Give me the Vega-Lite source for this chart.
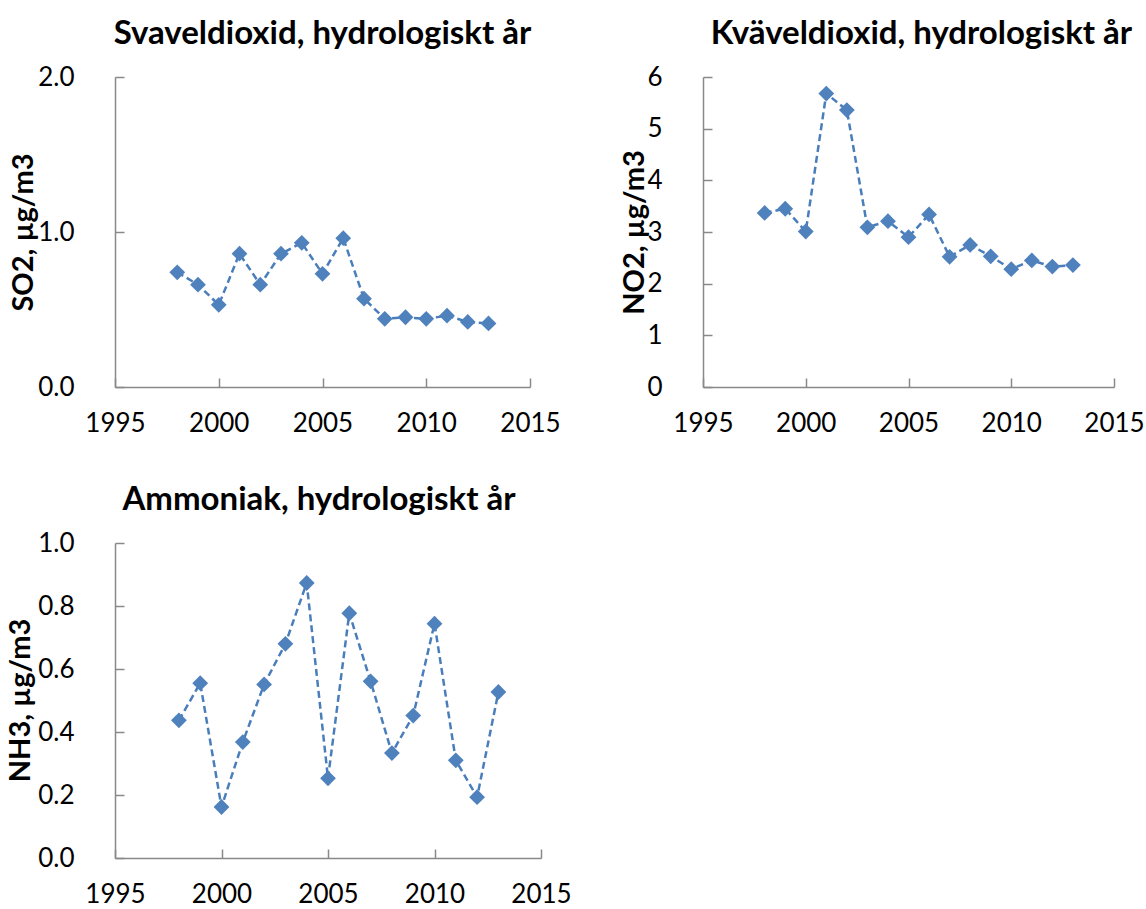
{
  "$schema": "https://vega.github.io/schema/vega-lite/v6.json",
  "background": "white",
  "autosize": {"type": "none"},
  "padding": {"left": 115, "top": 77, "right": 1031, "bottom": 832},
  "datasets": {
    "so2": [
      {"year": 1998, "value": 0.74}, {"year": 1999, "value": 0.66}, {"year": 2000, "value": 0.53},
      {"year": 2001, "value": 0.86}, {"year": 2002, "value": 0.66}, {"year": 2003, "value": 0.86},
      {"year": 2004, "value": 0.93}, {"year": 2005, "value": 0.73}, {"year": 2006, "value": 0.96},
      {"year": 2007, "value": 0.57}, {"year": 2008, "value": 0.44}, {"year": 2009, "value": 0.45},
      {"year": 2010, "value": 0.44}, {"year": 2011, "value": 0.46}, {"year": 2012, "value": 0.42},
      {"year": 2013, "value": 0.41}
    ],
    "no2": [
      {"year": 1998, "value": 3.37}, {"year": 1999, "value": 3.45}, {"year": 2000, "value": 3.01},
      {"year": 2001, "value": 5.68}, {"year": 2002, "value": 5.36}, {"year": 2003, "value": 3.09},
      {"year": 2004, "value": 3.21}, {"year": 2005, "value": 2.90}, {"year": 2006, "value": 3.34},
      {"year": 2007, "value": 2.52}, {"year": 2008, "value": 2.75}, {"year": 2009, "value": 2.53},
      {"year": 2010, "value": 2.28}, {"year": 2011, "value": 2.45}, {"year": 2012, "value": 2.33},
      {"year": 2013, "value": 2.36}
    ],
    "nh3": [
      {"year": 1998, "value": 0.437}, {"year": 1999, "value": 0.555}, {"year": 2000, "value": 0.162},
      {"year": 2001, "value": 0.368}, {"year": 2002, "value": 0.551}, {"year": 2003, "value": 0.680},
      {"year": 2004, "value": 0.873}, {"year": 2005, "value": 0.253}, {"year": 2006, "value": 0.777},
      {"year": 2007, "value": 0.561}, {"year": 2008, "value": 0.333}, {"year": 2009, "value": 0.452},
      {"year": 2010, "value": 0.744}, {"year": 2011, "value": 0.310}, {"year": 2012, "value": 0.193},
      {"year": 2013, "value": 0.527}
    ]
  },
  "config": {
    "font": "Lato",
    "view": {"stroke": null},
    "axis": {
      "grid": false,
      "domainColor": "#898989",
      "domainWidth": 1.5,
      "tickColor": "#898989",
      "tickWidth": 1.5,
      "tickSize": -9,
      "labelFont": "Lato",
      "labelFontSize": 26,
      "labelColor": "#000000",
      "titleFont": "Lato",
      "titleFontSize": 29,
      "titleFontWeight": "bold",
      "titleColor": "#000000"
    },
    "axisX": {"labelPadding": 32, "labelFlush": false},
    "axisY": {"labelPadding": 50, "titleAngle": -90, "titleBaseline": "bottom"},
    "title": {
      "font": "Lato",
      "fontSize": 33,
      "fontWeight": "bold",
      "color": "#000000",
      "anchor": "middle",
      "baseline": "alphabetic",
      "offset": 13
    }
  },
  "bounds": "flush",
  "spacing": 466,
  "vconcat": [
    {
      "bounds": "flush",
      "spacing": 173,
      "hconcat": [
        {
          "title": {"text": "Svaveldioxid, hydrologiskt år"},
          "width": 415,
          "height": 310,
          "data": {"name": "so2"},
          "encoding": {
            "x": {"field": "year", "type": "quantitative", "scale": {"domain": [1995, 2015], "nice": false, "zero": false},
                  "axis": {"title": null, "values": [1995, 2000, 2005, 2010, 2015], "format": "d"}},
            "y": {"field": "value", "type": "quantitative", "scale": {"domain": [0, 2], "nice": false},
                  "axis": {"title": "SO2, µg/m3", "values": [0, 1, 2], "format": ".1f", "titleX": -77, "titleY": 155}}
          },
          "layer": [
            {"mark": {"type": "line", "color": "#4A7EBB", "strokeWidth": 2.5, "strokeDash": [7, 4]}},
            {"mark": {"type": "point", "shape": "diamond", "filled": true, "color": "#4F81BD", "opacity": 1, "size": 250}}
          ]
        },
        {
          "title": {"text": "Kväveldioxid, hydrologiskt år", "dx": 13},
          "width": 411,
          "height": 310,
          "data": {"name": "no2"},
          "encoding": {
            "x": {"field": "year", "type": "quantitative", "scale": {"domain": [1995, 2015], "nice": false, "zero": false},
                  "axis": {"title": null, "values": [1995, 2000, 2005, 2010, 2015], "format": "d"}},
            "y": {"field": "value", "type": "quantitative", "scale": {"domain": [0, 6], "nice": false},
                  "axis": {"title": "NO2, µg/m3", "values": [0, 1, 2, 3, 4, 5, 6], "format": "d", "titleX": -54, "titleY": 155}}
          },
          "layer": [
            {"mark": {"type": "line", "color": "#4A7EBB", "strokeWidth": 2.5, "strokeDash": [7, 4]}},
            {"mark": {"type": "point", "shape": "diamond", "filled": true, "color": "#4F81BD", "opacity": 1, "size": 250}}
          ]
        }
      ]
    },
    {
      "title": {"text": "Ammoniak, hydrologiskt år", "dx": -9},
      "width": 426,
      "height": 315,
      "data": {"name": "nh3"},
      "encoding": {
        "x": {"field": "year", "type": "quantitative", "scale": {"domain": [1995, 2015], "nice": false, "zero": false},
              "axis": {"title": null, "values": [1995, 2000, 2005, 2010, 2015], "format": "d"}},
        "y": {"field": "value", "type": "quantitative", "scale": {"domain": [0, 1], "nice": false},
              "axis": {"title": "NH3, µg/m3", "values": [0, 0.2, 0.4, 0.6, 0.8, 1.0], "format": ".1f", "titleX": -80, "titleY": 157}}
      },
      "layer": [
        {"mark": {"type": "line", "color": "#4A7EBB", "strokeWidth": 2.5, "strokeDash": [7, 4]}},
        {"mark": {"type": "point", "shape": "diamond", "filled": true, "color": "#4F81BD", "opacity": 1, "size": 250}}
      ]
    }
  ]
}
